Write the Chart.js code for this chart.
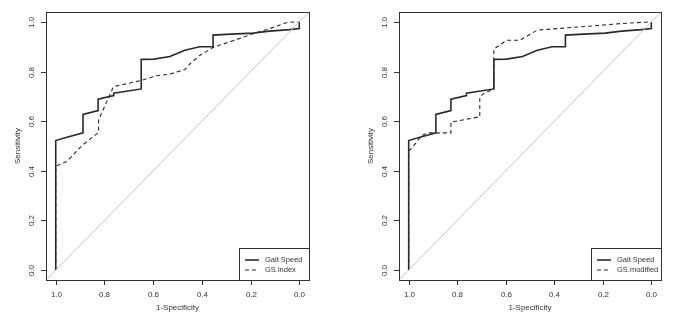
<!DOCTYPE html>
<html>
<head>
<meta charset="utf-8">
<script src="https://cdn.jsdelivr.net/npm/chart.js@4.4.0/dist/chart.umd.min.js"></script>
<style>
  body { margin: 0; background: #fff; }
  .wrap { display: flex; width: 700px; height: 319px; }
  .cell { position: relative; width: 350px; height: 319px; }
</style>
</head>
<body>
<div class="wrap">
  <div class="cell"><canvas id="rocLeft" width="350" height="319"></canvas></div>
  <div class="cell"><canvas id="rocRight" width="350" height="319"></canvas></div>
</div>
<script>
// axis ticks
var tickValues = [0.0, 0.2, 0.4, 0.6, 0.8, 1.0];

// Gait Speed (same curve in both panels)
var gaitSpec = [1.0, 1.0, 0.954, 0.888, 0.888, 0.826, 0.826, 0.762, 0.762, 0.649, 0.649, 0.597, 0.531, 0.47, 0.409, 0.354, 0.354, 0.3, 0.19, 0.123, 0.04, 0.0, 0.0];
var gaitSens = [0.0, 0.522, 0.535, 0.553, 0.627, 0.643, 0.689, 0.703, 0.713, 0.73, 0.849, 0.85, 0.861, 0.886, 0.9, 0.9, 0.947, 0.95, 0.955, 0.963, 0.969, 0.973, 1.0];

// GS.index
var gsIndexSpec = [1.0, 1.0, 0.954, 0.892, 0.824, 0.824, 0.763, 0.654, 0.586, 0.531, 0.47, 0.45, 0.409, 0.354, 0.272, 0.19, 0.109, 0.054, 0.02, 0.0];
var gsIndexSens = [0.0, 0.419, 0.438, 0.502, 0.555, 0.605, 0.739, 0.763, 0.783, 0.79, 0.808, 0.83, 0.865, 0.897, 0.924, 0.952, 0.977, 0.997, 1.0, 1.0];

// GS.modified
var gsModSpec = [1.0, 1.0, 0.988, 0.947, 0.919, 0.826, 0.826, 0.707, 0.707, 0.693, 0.649, 0.649, 0.597, 0.542, 0.5, 0.47, 0.364, 0.24, 0.13, 0.01, 0.0];
var gsModSens = [0.0, 0.48, 0.49, 0.542, 0.553, 0.553, 0.596, 0.618, 0.698, 0.71, 0.73, 0.89, 0.926, 0.926, 0.95, 0.967, 0.975, 0.984, 0.993, 1.0, 1.0];

// reference diagonal
var diagSpec = [1.04, -0.04];
var diagSens = [-0.04, 1.04];

function toPoints(xs, ys) {
  var pts = [];
  for (var i = 0; i < xs.length; i++) pts.push({x: xs[i], y: ys[i]});
  return pts;
}

var FONT = '"Liberation Sans", Arial, sans-serif';
var INK = '#333333';

// draws box, ticks, tick labels, titles and legend (R base graphics look)
var rFrame = {
  id: 'rFrame',
  afterDatasetsDraw: function(chart) {
    var ctx = chart.ctx;
    var a = chart.chartArea;
    var xs = chart.scales.x, ys = chart.scales.y;
    ctx.save();
    ctx.strokeStyle = INK;
    ctx.lineWidth = 1;
    ctx.strokeRect(Math.round(a.left) + 0.5, Math.round(a.top) + 0.5, Math.round(a.right - a.left), Math.round(a.bottom - a.top));
    ctx.fillStyle = INK;
    ctx.font = '8px ' + FONT;
    ctx.textAlign = 'center';
    ctx.textBaseline = 'middle';
    tickValues.forEach(function(v) {
      var px = Math.round(xs.getPixelForValue(v)) + 0.5;
      ctx.beginPath();
      ctx.moveTo(px, a.bottom);
      ctx.lineTo(px, a.bottom + 5);
      ctx.stroke();
      ctx.fillText(v.toFixed(1), px, a.bottom + 15);
      var py = Math.round(ys.getPixelForValue(v)) + 0.5;
      ctx.beginPath();
      ctx.moveTo(a.left, py);
      ctx.lineTo(a.left - 5, py);
      ctx.stroke();
      ctx.save();
      ctx.translate(a.left - 14, py);
      ctx.rotate(-Math.PI / 2);
      ctx.fillText(v.toFixed(1), 0, 0);
      ctx.restore();
    });
    ctx.fillText('1-Specificity', (a.left + a.right) / 2, a.bottom + 28);
    ctx.save();
    ctx.translate(a.left - 28, (a.top + a.bottom) / 2);
    ctx.rotate(-Math.PI / 2);
    ctx.fillText('Sensitivity', 0, 0);
    ctx.restore();

    // legend in bottom-right corner
    var ds = chart.data.datasets.filter(function(d) { return d.label; });
    var lw = 70, lh = 32;
    var lx = Math.round(a.right) - lw, ly = Math.round(a.bottom) - lh;
    ctx.fillStyle = '#fff';
    ctx.fillRect(lx, ly, lw, lh);
    ctx.strokeRect(lx + 0.5, ly + 0.5, lw, lh);
    ctx.textAlign = 'left';
    ctx.font = '7.5px ' + FONT;
    ds.forEach(function(d, i) {
      var yy = ly + 12 + i * 10;
      ctx.beginPath();
      ctx.setLineDash(d.borderDash || []);
      ctx.lineWidth = d.borderWidth;
      ctx.strokeStyle = d.borderColor;
      ctx.moveTo(lx + 6, yy);
      ctx.lineTo(lx + 20, yy);
      ctx.stroke();
      ctx.setLineDash([]);
      ctx.fillStyle = INK;
      ctx.fillText(d.label, lx + 26, yy);
    });
    ctx.restore();
  }
};

function makeRoc(id, otherLabel, otherSpec, otherSens, padLeft, padRight) {
  return new Chart(document.getElementById(id), {
    type: 'scatter',
    data: {
      datasets: [
        {
          data: toPoints(diagSpec, diagSens),
          showLine: true, borderColor: '#c4c4c4', borderWidth: 1,
          pointRadius: 0, tension: 0
        },
        {
          label: 'Gait Speed',
          data: toPoints(gaitSpec, gaitSens),
          showLine: true, borderColor: '#2a2a2a', borderWidth: 1.6,
          pointRadius: 0, tension: 0
        },
        {
          label: otherLabel,
          data: toPoints(otherSpec, otherSens),
          showLine: true, borderColor: '#2a2a2a', borderWidth: 1.1,
          borderDash: [4, 3], pointRadius: 0, tension: 0
        }
      ]
    },
    options: {
      responsive: false,
      animation: false,
      layout: { padding: { left: padLeft, right: padRight, top: 12, bottom: 39 } },
      scales: {
        x: { type: 'linear', reverse: true, min: -0.04, max: 1.04, display: false },
        y: { type: 'linear', min: -0.04, max: 1.04, display: false }
      },
      plugins: { legend: { display: false }, tooltip: { enabled: false } }
    },
    plugins: [rFrame]
  });
}

makeRoc('rocLeft', 'GS.index', gsIndexSpec, gsIndexSens, 46, 41);
makeRoc('rocRight', 'GS.modified', gsModSpec, gsModSens, 49, 39);
</script>
</body>
</html>
